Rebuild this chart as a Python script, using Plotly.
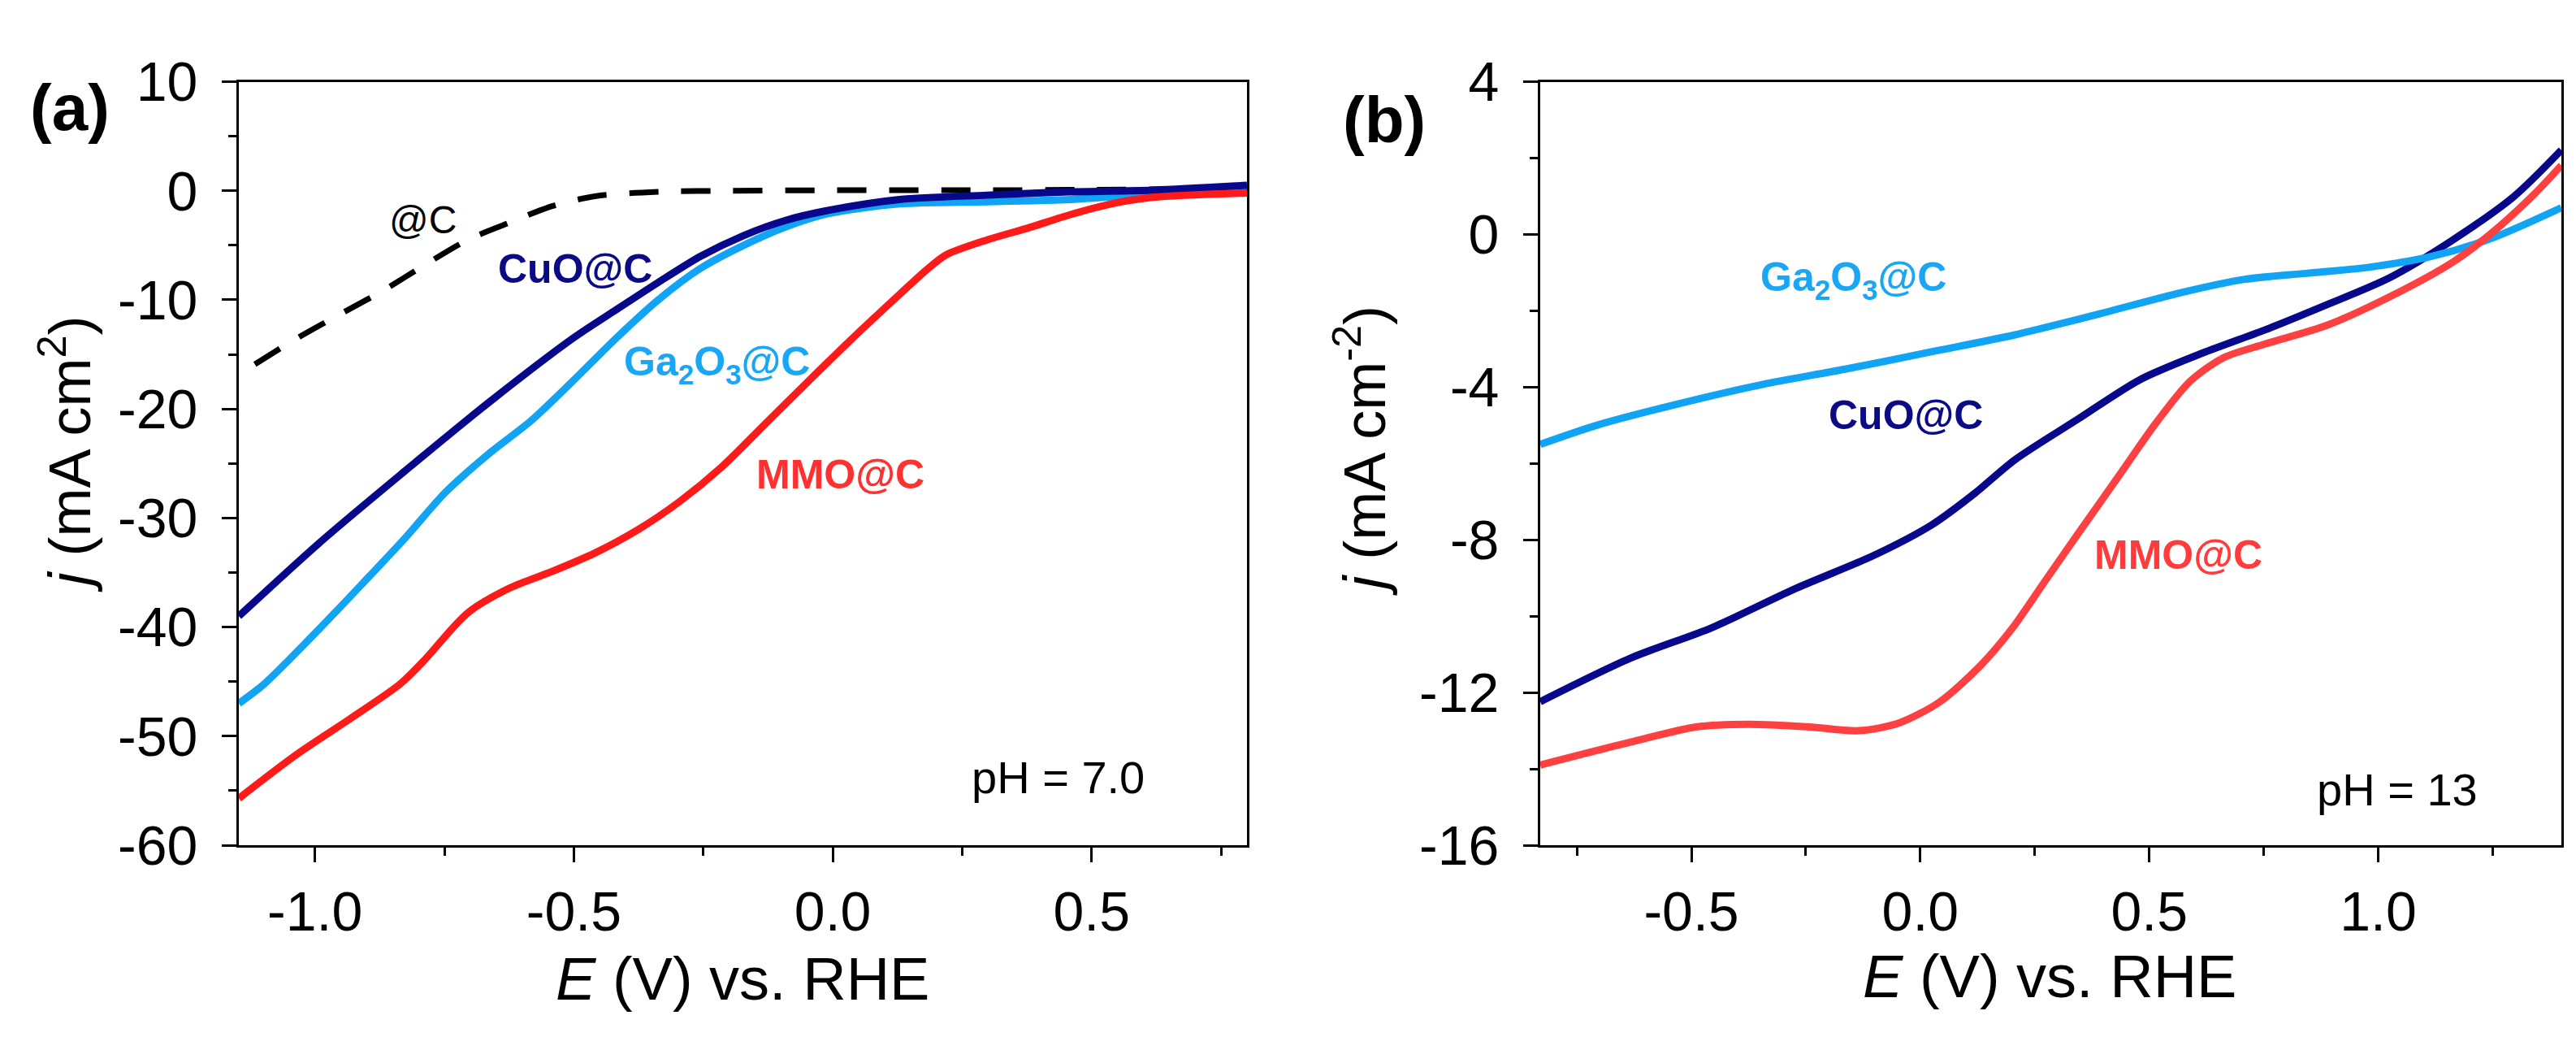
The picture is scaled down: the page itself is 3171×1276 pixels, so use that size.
import plotly.graph_objects as go

# ---- panel (a): pH 7.0 ----
a_c_E = [-1.116, -1.034, -0.951, -0.87, -0.788, -0.705, -0.623, -0.542, -0.459, -0.337, -0.2, 0.0, 0.3, 0.5, 0.8]
a_c_j = [-15.9, -13.5, -11.3, -9.2, -6.8, -4.5, -2.9, -1.4, -0.5, -0.1, 0.0, 0.05, 0.05, 0.1, 0.2]

a_cuo_E = [-1.147, -0.992, -0.829, -0.664, -0.501, -0.418, -0.337, -0.255, -0.172, -0.09, -0.009, 0.129, 0.298, 0.458, 0.618, 0.80]
a_cuo_j = [-39.0, -32.3, -25.8, -19.4, -13.5, -10.9, -8.4, -6.0, -4.1, -2.7, -1.8, -0.8, -0.4, -0.1, 0.06, 0.5]

a_ga_E = [-1.147, -1.1, -1.05, -0.98, -0.91, -0.829, -0.747, -0.664, -0.583, -0.501, -0.418, -0.337, -0.255, -0.172, -0.09, -0.009, 0.129, 0.298, 0.458, 0.618, 0.80]
a_ga_j = [-47.0, -45.3, -43.0, -39.6, -36.1, -32.0, -27.6, -24.1, -21.1, -17.4, -13.5, -10.0, -7.1, -5.0, -3.3, -2.1, -1.2, -1.0, -0.8, -0.3, 0.3]

a_mmo_E = [-1.147, -1.036, -0.932, -0.835, -0.788, -0.705, -0.623, -0.542, -0.459, -0.377, -0.296, -0.214, -0.131, -0.05, 0.032, 0.129, 0.18, 0.218, 0.298, 0.378, 0.458, 0.538, 0.618, 0.80]
a_mmo_j = [-55.7, -51.7, -48.4, -45.2, -43.0, -38.7, -36.4, -34.9, -33.2, -31.1, -28.5, -25.3, -21.4, -17.6, -13.8, -9.5, -7.3, -5.9, -4.5, -3.4, -2.2, -1.2, -0.6, -0.2]

# ---- panel (b): pH 13 ----
b_cuo_E = [-0.83, -0.633, -0.455, -0.277, -0.1, 0.026, 0.117, 0.207, 0.344, 0.479, 0.616, 0.753, 0.888, 1.024, 1.161, 1.296, 1.40]
b_cuo_j = [-12.24, -11.1, -10.3, -9.3, -8.4, -7.6, -6.8, -5.9, -4.84, -3.81, -3.11, -2.5, -1.84, -1.14, -0.16, 0.99, 2.21]

b_ga_E = [-0.83, -0.707, -0.526, -0.345, -0.164, 0.026, 0.207, 0.388, 0.571, 0.706, 0.843, 0.98, 1.115, 1.252, 1.40]
b_ga_j = [-5.5, -5.0, -4.43, -3.93, -3.53, -3.07, -2.63, -2.09, -1.52, -1.18, -1.02, -0.86, -0.58, -0.08, 0.70]

b_mmo_E = [-0.83, -0.633, -0.49, -0.375, -0.242, -0.135, -0.047, 0.042, 0.131, 0.202, 0.273, 0.344, 0.435, 0.516, 0.589, 0.662, 0.753, 0.888, 1.024, 1.161, 1.252, 1.342, 1.40]
b_mmo_j = [-13.9, -13.3, -12.9, -12.83, -12.9, -13.0, -12.8, -12.25, -11.3, -10.3, -9.07, -7.85, -6.3, -4.92, -3.85, -3.23, -2.87, -2.38, -1.64, -0.74, 0.08, 1.07, 1.81]

# tick labels (hyphen minus as in the original)
a_xticks = [-1.0, -0.5, 0.0, 0.5]
a_xlabels = ["-1.0", "-0.5", "0.0", "0.5"]
a_yticks = [10, 0, -10, -20, -30, -40, -50, -60]
a_ylabels = ["10", "0", "-10", "-20", "-30", "-40", "-50", "-60"]
b_xticks = [-0.5, 0.0, 0.5, 1.0]
b_xlabels = ["-0.5", "0.0", "0.5", "1.0"]
b_yticks = [4, 0, -4, -8, -12, -16]
b_ylabels = ["4", "0", "-4", "-8", "-12", "-16"]

NAVY = "#08088C"
LBLUE = "#12A4F4"
RED_A = "#FF1A1A"
RED_B = "#FF4040"
FONT = "Liberation Sans, Arial, sans-serif"
W, H = 3171, 1276
LW = 9

fig = go.Figure()

fig.add_trace(go.Scatter(x=a_c_E, y=a_c_j, mode="lines",
                         line=dict(color="black", width=7, dash="36px,28px", shape="spline", smoothing=0.8),
                         xaxis="x", yaxis="y"))
fig.add_trace(go.Scatter(x=a_ga_E, y=a_ga_j, mode="lines", line=dict(color=LBLUE, width=LW, shape="spline", smoothing=0.8),
                         xaxis="x", yaxis="y"))
fig.add_trace(go.Scatter(x=a_cuo_E, y=a_cuo_j, mode="lines", line=dict(color=NAVY, width=LW, shape="spline", smoothing=0.8),
                         xaxis="x", yaxis="y"))
fig.add_trace(go.Scatter(x=a_mmo_E, y=a_mmo_j, mode="lines", line=dict(color=RED_A, width=LW, shape="spline", smoothing=0.8),
                         xaxis="x", yaxis="y"))

fig.add_trace(go.Scatter(x=b_cuo_E, y=b_cuo_j, mode="lines", line=dict(color=NAVY, width=LW, shape="spline", smoothing=0.8),
                         xaxis="x2", yaxis="y2"))
fig.add_trace(go.Scatter(x=b_ga_E, y=b_ga_j, mode="lines", line=dict(color=LBLUE, width=LW, shape="spline", smoothing=0.8),
                         xaxis="x2", yaxis="y2"))
fig.add_trace(go.Scatter(x=b_mmo_E, y=b_mmo_j, mode="lines", line=dict(color=RED_B, width=LW, shape="spline", smoothing=0.8),
                         xaxis="x2", yaxis="y2"))


def axis_style(rng, dom, vals, labels, minor_dtick, minor_tick0, anchor, standoff):
    return dict(range=rng, domain=dom, anchor=anchor, tickmode="array", tickvals=vals, ticktext=labels,
                showline=True, linecolor="black", linewidth=3, mirror=True,
                ticks="outside", ticklen=18, tickwidth=3, tickcolor="black",
                ticklabelstandoff=standoff,
                minor=dict(tickmode="linear", tick0=minor_tick0, dtick=minor_dtick, ticks="outside",
                           ticklen=10, tickwidth=3, tickcolor="black", showgrid=False),
                showgrid=False, zeroline=False,
                tickfont=dict(family=FONT, size=68, color="black"))


xdom_a = [286 / W, 1527 / W]
xdom_b = [1888 / W, 3145 / W]
ydom = [1 - 1057 / H, 1 - 58 / H]

fig.update_layout(
    width=W, height=H, margin=dict(l=0, r=0, t=0, b=0),
    paper_bgcolor="white", plot_bgcolor="white", showlegend=False,
    font=dict(family=FONT, size=68, color="black"),
    xaxis=axis_style([-1.147, 0.80], xdom_a, a_xticks, a_xlabels, 0.25, -1.25, "y", 2),
    yaxis=axis_style([-60, 10], ydom, a_yticks, a_ylabels, 5, -60, "x", 16),
    xaxis2=axis_style([-0.83, 1.40], xdom_b, b_xticks, b_xlabels, 0.25, -1.0, "y2", 2),
    yaxis2=axis_style([-16, 4], ydom, b_yticks, b_ylabels, 2, -16, "x2", 16),
)

ann = []


def paper_text(text, px, py, size, bold=False, angle=0):
    if bold:
        text = "<b>" + text + "</b>"
    ann.append(dict(text=text, x=px / W, y=1 - py / H, xref="paper", yref="paper", showarrow=False,
                    xanchor="center", yanchor="middle", textangle=angle,
                    font=dict(family=FONT, size=size, color="black")))


def data_text(text, x, y, ax, color, size, bold=True):
    if bold:
        text = "<b>" + text + "</b>"
    ann.append(dict(text=text, x=x, y=y, xref=ax, yref=ax.replace("x", "y"), showarrow=False,
                    xanchor="center", yanchor="middle",
                    font=dict(family=FONT, size=size, color=color)))


paper_text("(a)", 78, 92, 80, bold=True)
paper_text("(b)", 1696, 108, 80, bold=True)
paper_text("<i>E</i> (V) vs. RHE", 906, 1232, 74)
paper_text("<i>E</i> (V) vs. RHE", 2515, 1229, 74)
paper_text("<i>j</i> (mA cm<sup>2</sup>)", 72, 546, 72, angle=-90)
paper_text("<i>j</i> (mA cm<sup>-2</sup>)", 1667, 541, 72, angle=-90)

data_text("@C", -0.791, -2.67, "x", "black", 48, bold=False)
data_text("CuO@C", -0.498, -7.2, "x", "#0B0B85", 50)
data_text("Ga<sub>2</sub>O<sub>3</sub>@C", -0.224, -15.9, "x", "#18A6F5", 50)
data_text("MMO@C", 0.014, -26.0, "x", "#FF3030", 50)
data_text("pH = 7.0", 0.435, -53.8, "x", "black", 56, bold=False)

data_text("Ga<sub>2</sub>O<sub>3</sub>@C", -0.146, -1.2, "x2", "#18A6F5", 50)
data_text("CuO@C", -0.031, -4.73, "x2", "#0B0B85", 50)
data_text("MMO@C", 0.563, -8.39, "x2", "#FF3B3B", 50)
data_text("pH = 13", 1.042, -14.55, "x2", "black", 56, bold=False)

fig.update_layout(annotations=ann)

fig.write_html("out.html")
